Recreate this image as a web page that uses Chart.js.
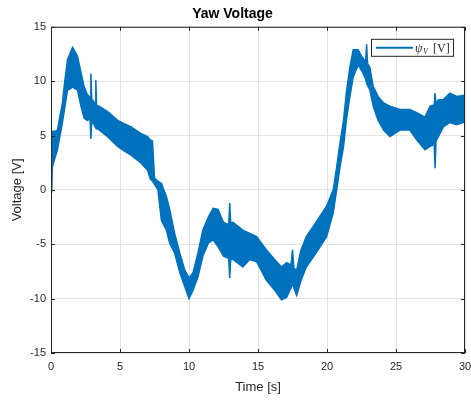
<!DOCTYPE html>
<html>
<head>
<meta charset="utf-8">
<title>Yaw Voltage</title>
<script src="https://cdn.jsdelivr.net/npm/chart.js@4.4.0/dist/chart.umd.min.js"></script>
<style>
  html, body { margin: 0; padding: 0; background: #fff; }
  #wrap { width: 471px; height: 402px; position: relative; }
</style>
</head>
<body>
<div id="wrap"><canvas id="yaw"></canvas></div>
<script>
// time [s] and the upper / lower edge of the noisy psi_V trace [V]
const time = [0, 0.05, 0.1, 0.3, 0.47, 0.65, 0.83, 1.0, 1.2, 1.4, 1.56, 1.75, 1.92, 2.17, 2.4, 2.62,
  2.83, 2.89, 2.95, 3.2, 3.25, 3.3, 3.6, 4.1, 4.83, 5.3, 5.8, 6.5, 7.0, 7.2, 7.35, 7.5, 7.75,
  8.0, 8.36, 8.6, 8.96, 9.33, 9.7, 10.0, 10.3, 10.65, 11.0, 11.4, 11.75, 12.1, 12.5, 12.88,
  12.95, 13.02, 13.2, 13.9, 14.4, 14.9, 15.6, 16.2, 16.7, 17.07, 17.4, 17.5, 17.6, 17.8,
  18.1, 18.5, 19.2, 19.97, 20.45, 20.7, 20.94, 21.2, 21.4, 21.66, 21.9, 22.26, 22.5, 22.8,
  22.87, 22.94, 23.1, 23.35, 23.7, 24.1, 24.56, 25.3, 26.0, 26.5, 27.1, 27.47, 27.77, 27.83,
  27.9, 28.07, 28.43, 28.9, 29.4, 29.9, 30.0];
const upperV = [0.3, 4.5, 5.4, 5.4, 5.5, 6.8, 8.0, 10.0, 12.0, 12.6, 13.1, 12.7, 12.3, 10.8, 9.5, 8.8,
  8.5, 10.7, 8.4, 7.9, 10.1, 7.8, 7.6, 7.2, 6.4, 6.1, 5.8, 5.2, 4.9, 4.6, 4.5, 1.1, 0.8,
  0.6, -0.6, -1.8, -4.0, -5.8, -7.4, -8.1, -7.6, -5.8, -3.7, -2.5, -1.7, -1.8, -3.0, -3.2,
  -1.2, -3.0, -3.0, -3.7, -4.0, -4.3, -5.5, -6.4, -7.1, -6.7, -6.9, -5.5, -7.2, -7.4,
  -5.6, -4.3, -3.0, -1.5, 0.0, 2.1, 4.3, 6.4, 8.9, 11.3, 12.9, 12.9, 12.3, 11.8,
  13.4, 11.6, 11.3, 9.5, 8.6, 8.0, 7.7, 7.4, 7.4, 7.1, 6.7, 7.7, 7.8, 8.9,
  7.9, 8.3, 8.3, 8.9, 8.6, 8.7, 8.5];
const lowerV = [-0.2, 0.5, 2.1, 3.0, 3.7, 5.0, 6.2, 7.6, 9.2, 9.3, 9.5, 9.3, 9.2, 7.7, 6.6, 6.4,
  6.5, 4.7, 6.4, 5.8, 5.7, 5.7, 5.4, 4.9, 4.0, 3.6, 3.2, 2.5, 1.8, 1.0, 0.8, 0.5, 0.0,
  -2.8, -3.7, -4.9, -5.8, -7.6, -8.9, -10.0, -9.2, -8.0, -6.1, -4.9, -4.6, -5.2, -6.1, -6.3,
  -8.1, -6.4, -6.4, -7.1, -6.4, -6.6, -8.3, -9.2, -10.1, -9.9, -9.0, -8.6, -9.0, -9.7,
  -8.4, -7.1, -5.8, -4.3, -2.1, 0.0, 2.1, 4.0, 6.4, 8.6, 10.4, 11.5, 11.0, 10.2,
  9.8, 9.6, 9.2, 7.7, 6.4, 5.5, 4.9, 5.5, 5.5, 4.6, 3.7, 4.0, 4.2, 2.0,
  4.5, 4.9, 5.8, 6.2, 6.0, 6.2, 6.4];
const xTicks = [0, 5, 10, 15, 20, 25, 30];
const yTicks = [-15, -10, -5, 0, 5, 10, 15];

const blue = '#0072BD';
const ink = '#262626';
const sans = "'Liberation Sans', Arial, Helvetica, sans-serif";
const serif = "'Liberation Serif', 'DejaVu Serif', serif";

function toPoints(values) {
    return time.map((t, i) => ({ x: t, y: values[i] }));
}

// MATLAB style box with inward ticks, plus the legend inside the axes
const axesBox = {
    id: 'axesBox',
    afterDatasetsDraw(chart) {
        const { ctx, chartArea: a, scales } = chart;
        ctx.save();
        ctx.strokeStyle = ink;
        ctx.lineWidth = 1;
        ctx.strokeRect(a.left + 0.5, a.top + 0.5, a.width - 1, a.height - 1);
        ctx.beginPath();
        xTicks.forEach(v => {
            const x = Math.round(scales.x.getPixelForValue(v)) + 0.5;
            ctx.moveTo(x, a.bottom); ctx.lineTo(x, a.bottom - 4);
            ctx.moveTo(x, a.top); ctx.lineTo(x, a.top + 4);
        });
        yTicks.forEach(v => {
            const y = Math.round(scales.y.getPixelForValue(v)) + 0.5;
            ctx.moveTo(a.left, y); ctx.lineTo(a.left + 4, y);
            ctx.moveTo(a.right, y); ctx.lineTo(a.right - 4, y);
        });
        ctx.stroke();

        // legend
        const bx = a.right - 94, by = a.top + 12, bw = 82, bh = 17;
        ctx.fillStyle = '#fff';
        ctx.fillRect(bx, by, bw, bh);
        ctx.strokeStyle = ink;
        ctx.strokeRect(bx + 0.5, by + 0.5, bw, bh);
        ctx.strokeStyle = blue;
        ctx.lineWidth = 2;
        ctx.beginPath();
        ctx.moveTo(bx + 5, by + 9);
        ctx.lineTo(bx + 42, by + 9);
        ctx.stroke();
        ctx.fillStyle = ink;
        ctx.textBaseline = 'alphabetic';
        ctx.font = 'italic 12px ' + serif;
        ctx.fillText('ψ', bx + 44, by + 13);
        ctx.font = 'italic 8px ' + serif;
        ctx.fillText('V', bx + 52, by + 15);
        ctx.font = '12px ' + serif;
        ctx.fillText('[V]', bx + 62, by + 13);
        ctx.restore();
    }
};

new Chart(document.getElementById('yaw'), {
    type: 'line',
    data: {
        datasets: [{
            label: 'upper',
            data: toPoints(upperV),
            borderColor: blue,
            backgroundColor: blue,
            borderWidth: 1.5,
            pointRadius: 0,
            fill: '+1'
        }, {
            label: 'lower',
            data: toPoints(lowerV),
            borderColor: blue,
            backgroundColor: blue,
            borderWidth: 1.5,
            pointRadius: 0,
            fill: false
        }]
    },
    options: {
        responsive: true,
        maintainAspectRatio: false,
        animation: false,
        layout: { padding: { left: 0, right: 6, top: 0, bottom: 0 } },
        plugins: {
            legend: { display: false },
            tooltip: { enabled: false },
            title: {
                display: true,
                text: 'Yaw Voltage',
                color: '#000',
                font: { family: sans, size: 14, weight: 'bold' },
                padding: { top: 6, bottom: 4 }
            }
        },
        scales: {
            x: {
                type: 'linear',
                min: 0,
                max: 30,
                afterBuildTicks: s => { s.ticks = xTicks.map(v => ({ value: v })); },
                afterFit: s => { s.height = 49; s.paddingLeft = 0; s.paddingRight = 0; },
                ticks: { color: ink, font: { family: sans, size: 11 }, padding: 7, maxRotation: 0 },
                grid: { color: '#e3e3e3', drawTicks: false },
                border: { display: false },
                title: {
                    display: true,
                    text: 'Time [s]',
                    color: ink,
                    font: { family: sans, size: 13 },
                    padding: { top: 0, bottom: 7 }
                }
            },
            y: {
                min: -15,
                max: 15,
                afterBuildTicks: s => { s.ticks = yTicks.map(v => ({ value: v })); },
                afterFit: s => { s.width = 51; s.paddingTop = 0; s.paddingBottom = 0; },
                ticks: { color: ink, font: { family: sans, size: 11 }, padding: 5 },
                grid: { color: '#e3e3e3', drawTicks: false },
                border: { display: false },
                title: {
                    display: true,
                    text: 'Voltage [V]',
                    color: ink,
                    font: { family: sans, size: 13 },
                    padding: { top: 10, bottom: 0 }
                }
            }
        }
    },
    plugins: [axesBox]
});
</script>
</body>
</html>
